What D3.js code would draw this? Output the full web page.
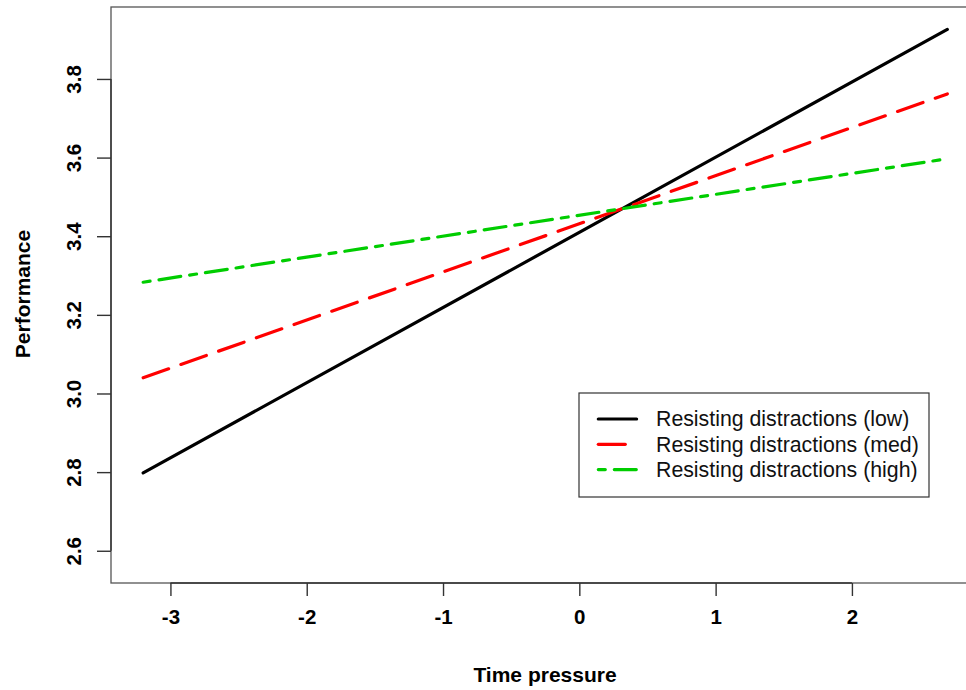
<!DOCTYPE html>
<html>
<head>
<meta charset="utf-8">
<script src="https://cdn.jsdelivr.net/npm/d3@7"></script>
<style>
  body { margin: 0; background: #fff; }
  svg { display: block; }
  text { font-family: "Liberation Sans", Arial, sans-serif; }
</style>
</head>
<body>
<svg id="chart" width="966" height="690"></svg>
<script>
// data
var timePressure = [-3.2, 2.7];
var lowRD  = [2.798, 3.926];
var medRD  = [3.040, 3.762];
var highRD = [3.283, 3.597];
var xTicks = [-3, -2, -1, 0, 1, 2];
var yTicks = [2.6, 2.8, 3.0, 3.2, 3.4, 3.6, 3.8];
var seriesNames = ['Resisting distractions (low)', 'Resisting distractions (med)', 'Resisting distractions (high)'];

var series = [
	{name: seriesNames[0], values: lowRD,  color: '#000000', dash: null},
	{name: seriesNames[1], values: medRD,  color: '#ff0000', dash: '27,13'},
	{name: seriesNames[2], values: highRD, color: '#00cd00', dash: '7,9,22,9'}
];

var plot = {left: 111, right: 979.5, top: 7, bottom: 583};

var svg = d3.select('#chart');

var xScale = d3.scaleLinear()
				.domain([-3.436, 2.936])
				.range([plot.left, plot.right]);

var yScale = d3.scaleLinear()
				.domain([2.518, 3.983])
				.range([plot.bottom, plot.top]);

// box
svg.append('rect')
	.attr('x', plot.left)
	.attr('y', plot.top)
	.attr('width', plot.right - plot.left)
	.attr('height', plot.bottom - plot.top)
	.attr('fill', 'none')
	.attr('stroke', '#555')
	.attr('stroke-width', 1.3);

// x axis
var xAxis = svg.append('g')
	.attr('transform', 'translate(0,' + plot.bottom + ')')
	.call(d3.axisBottom(xScale).tickValues(xTicks).tickSize(13).tickPadding(13).tickFormat(d3.format('d')));
xAxis.select('.domain').remove();
xAxis.append('line')
	.attr('x1', xScale(xTicks[0])).attr('x2', xScale(xTicks[xTicks.length - 1]))
	.attr('stroke', '#333').attr('stroke-width', 1.4);
xAxis.selectAll('.tick line').attr('stroke', '#333').attr('stroke-width', 1.4);
xAxis.selectAll('.tick text')
	.attr('fill', '#000')
	.style('font-size', '20.5px')
	.style('font-weight', 'bold')
	.text(d => d < 0 ? '-' + Math.abs(d) : d);

// y axis
var yAxis = svg.append('g')
	.attr('transform', 'translate(' + plot.left + ',0)')
	.call(d3.axisLeft(yScale).tickValues(yTicks).tickSize(14).tickFormat(d3.format('.1f')));
yAxis.select('.domain').remove();
yAxis.append('line')
	.attr('y1', yScale(yTicks[0])).attr('y2', yScale(yTicks[yTicks.length - 1]))
	.attr('stroke', '#333').attr('stroke-width', 1.4);
yAxis.selectAll('.tick line').attr('stroke', '#333').attr('stroke-width', 1.4);
yAxis.selectAll('.tick text')
	.attr('fill', '#000')
	.attr('x', 0).attr('y', 0)
	.attr('dy', null)
	.attr('text-anchor', 'middle')
	.attr('transform', 'translate(-30,0) rotate(-90)')
	.style('font-size', '20.5px')
	.style('font-weight', 'bold');

// axis titles
svg.append('text')
	.attr('x', 545)
	.attr('y', 682)
	.attr('text-anchor', 'middle')
	.style('font-size', '21px')
	.style('font-weight', 'bold')
	.text('Time pressure');

svg.append('text')
	.attr('transform', 'translate(30,' + 294 + ') rotate(-90)')
	.attr('text-anchor', 'middle')
	.style('font-size', '21px')
	.style('font-weight', 'bold')
	.text('Performance');

// lines
var lineGen = d3.line()
	.x((d, i) => xScale(timePressure[i]))
	.y(d => yScale(d));

svg.selectAll('.series')
	.data(series)
	.enter()
	.append('path')
	.attr('class', 'series')
	.attr('d', d => lineGen(d.values))
	.attr('fill', 'none')
	.attr('stroke', d => d.color)
	.attr('stroke-width', 3.2)
	.attr('stroke-linecap', 'round')
	.attr('stroke-dasharray', d => d.dash);

// legend
var legend = svg.append('g').attr('transform', 'translate(579,393)');
legend.append('rect')
	.attr('width', 350)
	.attr('height', 104)
	.attr('fill', '#fff')
	.attr('stroke', '#333')
	.attr('stroke-width', 1.2);

var rows = legend.selectAll('.row')
	.data(series)
	.enter()
	.append('g')
	.attr('transform', (d, i) => 'translate(0,' + (26 + i * 25.3) + ')');

rows.append('line')
	.attr('x1', 19.3).attr('x2', 57.6)
	.attr('stroke', d => d.color)
	.attr('stroke-width', 3.2)
	.attr('stroke-linecap', 'round')
	.attr('stroke-dasharray', d => d.dash);

rows.append('text')
	.attr('x', 77)
	.attr('dy', '0.35em')
	.style('font-size', '21.3px')
	.attr('fill', '#111')
	.text(d => d.name);
</script>
</body>
</html>
